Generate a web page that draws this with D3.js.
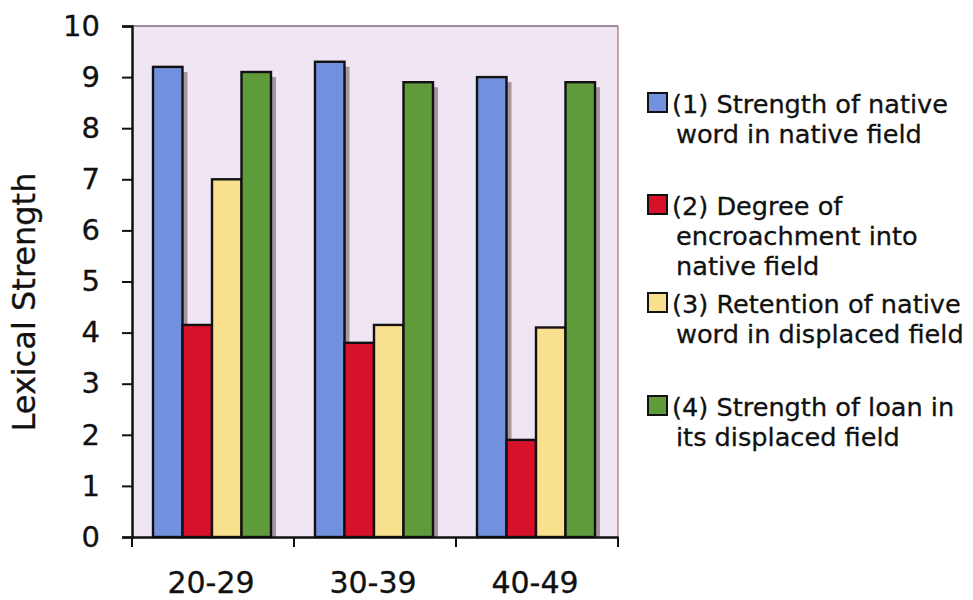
<!DOCTYPE html>
<html>
<head>
<meta charset="utf-8">
<script src="https://cdn.jsdelivr.net/npm/d3@7"></script>
<style>
	body { margin: 0; background: #fff; }
	text { font-family: "DejaVu Sans", sans-serif; fill: #111; stroke: #111; stroke-width: 0.3px; }
</style>
</head>
<body>
<div id="chart"></div>
<script>
// age groups and the four measures
var groups = ["20-29", "30-39", "40-49"];
var seriesNames = [
	["(1) Strength of native", "word in native field"],
	["(2) Degree of", "encroachment into", "native field"],
	["(3) Retention of native", "word in displaced field"],
	["(4) Strength of loan in", "its displaced field"]
];
var colors = ["#7191df", "#d8112b", "#f9e08f", "#5f9b3b"];

// values per series, one per age group
var native_strength = [9.2, 9.3, 9.0];
var encroachment = [4.15, 3.8, 1.9];
var retention = [7.0, 4.15, 4.1];
var loan_strength = [9.1, 8.9, 8.9];
var values = [native_strength, encroachment, retention, loan_strength];

var yTicks = [0, 1, 2, 3, 4, 5, 6, 7, 8, 9, 10];

var width = 973;
var height = 600;
var plot = { left: 132, right: 618, top: 26, bottom: 537 };

var svg = d3.select("#chart")
	.append("svg")
		.attr("width", width)
		.attr("height", height);

var x0 = d3.scaleBand()
	.domain(groups)
	.range([plot.left, plot.right]);

var x1 = d3.scaleBand()
	.domain(d3.range(values.length))
	.range([21, 139]);

var y = d3.scaleLinear()
	.domain([0, 10])
	.range([plot.bottom, plot.top]);

// plot background
svg.append("rect")
	.attr("x", plot.left)
	.attr("y", plot.top)
	.attr("width", plot.right - plot.left)
	.attr("height", plot.bottom - plot.top)
	.attr("fill", "#efe5f3");

// top and right frame lines
svg.append("line")
	.attr("x1", plot.left).attr("x2", plot.right)
	.attr("y1", plot.top).attr("y2", plot.top)
	.attr("stroke", "#7d6a7d")
	.attr("stroke-width", 1.5);
svg.append("line")
	.attr("x1", plot.right).attr("x2", plot.right)
	.attr("y1", plot.top).attr("y2", plot.bottom)
	.attr("stroke", "#9a6a7a")
	.attr("stroke-width", 1.2);

// flatten to one record per bar
var bars = [];
groups.forEach(function(g, gi) {
	values.forEach(function(s, si) {
		bars.push({ group: g, series: si, value: s[gi] });
	});
});

var shadow = 5;

svg.append("g")
	.attr("class", "shadows")
	.selectAll("rect")
	.data(bars)
	.enter().append("rect")
		.attr("x", function(d) { return x0(d.group) + x1(d.series) + shadow; })
		.attr("y", function(d) { return y(d.value) + shadow; })
		.attr("width", x1.bandwidth())
		.attr("height", function(d) { return Math.max(0, y(0) - y(d.value) - shadow); })
		.attr("fill", "#a4959f");

svg.append("g")
	.attr("class", "bars")
	.selectAll("rect")
	.data(bars)
	.enter().append("rect")
		.attr("x", function(d) { return x0(d.group) + x1(d.series); })
		.attr("y", function(d) { return y(d.value); })
		.attr("width", x1.bandwidth())
		.attr("height", function(d) { return y(0) - y(d.value); })
		.attr("fill", function(d) { return colors[d.series]; })
		.attr("stroke", "#111")
		.attr("stroke-width", 2.4);

// y axis
var yAxis = svg.append("g")
	.attr("transform", "translate(" + plot.left + ",0)")
	.call(d3.axisLeft(y).tickValues(yTicks).tickSize(10).tickPadding(22).tickFormat(d3.format("d")));
yAxis.select(".domain").attr("stroke", "#111").attr("stroke-width", 2.5);
yAxis.selectAll(".tick line").attr("stroke", "#111").attr("stroke-width", 2);
yAxis.selectAll(".tick text")
	.style("font-family", "DejaVu Sans, sans-serif")
	.style("font-size", "29px")
	.attr("fill", "#111");

// x axis, ticks sit on group boundaries
var xAxis = svg.append("g")
	.attr("transform", "translate(0," + plot.bottom + ")")
	.call(d3.axisBottom(x0).tickSize(0).tickPadding(0).tickFormat(""));
xAxis.select(".domain").attr("stroke", "#111").attr("stroke-width", 2.5);
xAxis.selectAll(".tick").remove();

var bounds = groups.map(function(g) { return x0(g); }).concat([plot.right]);
xAxis.selectAll(".edge")
	.data(bounds)
	.enter().append("line")
		.attr("class", "edge")
		.attr("x1", function(d) { return d; })
		.attr("x2", function(d) { return d; })
		.attr("y1", 0)
		.attr("y2", 10)
		.attr("stroke", "#111")
		.attr("stroke-width", 2);

svg.append("g")
	.selectAll("text")
	.data(groups)
	.enter().append("text")
		.attr("x", function(d) { return x0(d) + x0.bandwidth() / 2 - 2; })
		.attr("y", 593)
		.attr("text-anchor", "middle")
		.style("font-size", "30px")
		.text(function(d) { return d; });

// axis title
svg.append("text")
	.attr("transform", "translate(35,302) rotate(-90)")
	.attr("text-anchor", "middle")
	.style("font-size", "32px")
	.text("Lexical Strength");

// legend
var legendTop = [113, 215, 313, 416];
var lineH = 30;

var legend = svg.append("g")
	.selectAll("g")
	.data(seriesNames)
	.enter().append("g")
		.attr("transform", function(d, i) { return "translate(647," + legendTop[i] + ")"; });

legend.append("rect")
	.attr("x", 1)
	.attr("y", -20)
	.attr("width", 19)
	.attr("height", 19)
	.attr("fill", function(d, i) { return colors[i]; })
	.attr("stroke", "#111")
	.attr("stroke-width", 2);

legend.each(function(lines) {
	var g = d3.select(this);
	lines.forEach(function(t, li) {
		g.append("text")
			.attr("x", li == 0 ? 25 : 29)
			.attr("y", li * lineH)
			.style("font-size", "25.6px")
			.text(t);
	});
});
</script>
</body>
</html>
